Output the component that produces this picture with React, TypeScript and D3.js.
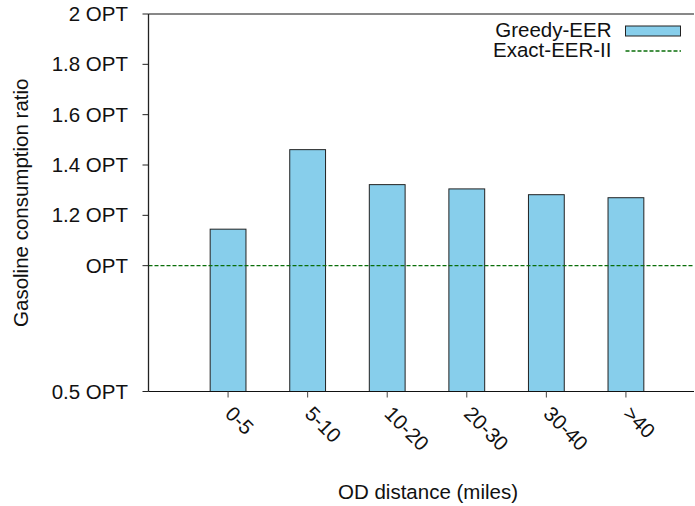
import React from "react";
import * as d3 from "d3";

const categories = ["0-5", "5-10", "10-20", "20-30", "30-40", ">40"];
const greedyValues = [1.145, 1.461, 1.322, 1.305, 1.282, 1.27];
const exactValue = 1.0;
const yTickValues = [0.5, 1, 1.2, 1.4, 1.6, 1.8, 2];
const yTickLabels = ["0.5 OPT", "OPT", "1.2 OPT", "1.4 OPT", "1.6 OPT", "1.8 OPT", "2 OPT"];
const seriesNames = ["Greedy-EER", "Exact-EER-II"];

const W = 695;
const H = 506;
const left = 148.5;
const right = 694;
const top = 14;
const bottom = 391.5;
const font = "'Liberation Sans', Arial, Helvetica, sans-serif";
const fs = 20.5;

export default function App() {
  const x = d3.scaleLinear().domain([-1, 6]).range([left, 705.5]);
  const y = d3.scaleLinear().domain([0.5, 2]).range([bottom, top]);
  const barW = 0.45;
  const fill = "#87ceeb";
  const green = "#0a6e0a";
  return (
    <svg width={W} height={H} style={{ position: "absolute", left: 0, top: 0 }} fontFamily={font}>
      <rect x={0} y={0} width={W} height={H} fill="#fff" />
      {greedyValues.map((v, i) => (
        <rect
          key={i}
          x={x(i - barW / 2)}
          y={y(v)}
          width={x(barW) - x(0)}
          height={y(0.5) - y(v)}
          fill={fill}
          stroke="#222"
          strokeWidth={1}
        />
      ))}
      <line x1={left} x2={right} y1={y(exactValue)} y2={y(exactValue)} stroke={green} strokeWidth={1.3} strokeDasharray="4,2" />
      {/* axes */}
      <line x1={left} x2={right} y1={top} y2={top} stroke="#111" strokeWidth={1} />
      <line x1={left} x2={right} y1={bottom} y2={bottom} stroke="#111" strokeWidth={1} />
      <line x1={left} x2={left} y1={top} y2={bottom} stroke="#222" strokeWidth={1.3} />
      {yTickValues.map((t, i) => (
        <g key={i}>
          <line x1={left - 6} x2={left} y1={y(t)} y2={y(t)} stroke="#222" strokeWidth={1} />
          <text x={128} y={y(t) + 7} textAnchor="end" fontSize={fs} fill="#111">
            {yTickLabels[i]}
          </text>
        </g>
      ))}
      {categories.map((c, i) => (
        <g key={c}>
          <line x1={x(i)} x2={x(i)} y1={bottom} y2={bottom + 6} stroke="#444" strokeWidth={1} />
          <text
            transform={`translate(${x(i) - 4},${415}) rotate(45)`}
            fontSize={fs}
            fill="#111"
          >
            {c}
          </text>
        </g>
      ))}
      <text x={428} y={498.5} textAnchor="middle" fontSize={fs} fill="#111">
        OD distance (miles)
      </text>
      <text transform={`translate(28,${(top + bottom) / 2}) rotate(-90)`} textAnchor="middle" fontSize={fs} fill="#111">
        Gasoline consumption ratio
      </text>
      {/* legend */}
      <text x={611.5} y={36.5} textAnchor="end" fontSize={fs} fill="#111">
        {seriesNames[0]}
      </text>
      <rect x={625.5} y={26} width={55} height={10} fill={fill} stroke="#222" strokeWidth={1} />
      <text x={611.5} y={57} textAnchor="end" fontSize={fs} fill="#111">
        {seriesNames[1]}
      </text>
      <line x1={625.5} x2={681} y1={51} y2={51} stroke={green} strokeWidth={1.3} strokeDasharray="4,2" />
    </svg>
  );
}
